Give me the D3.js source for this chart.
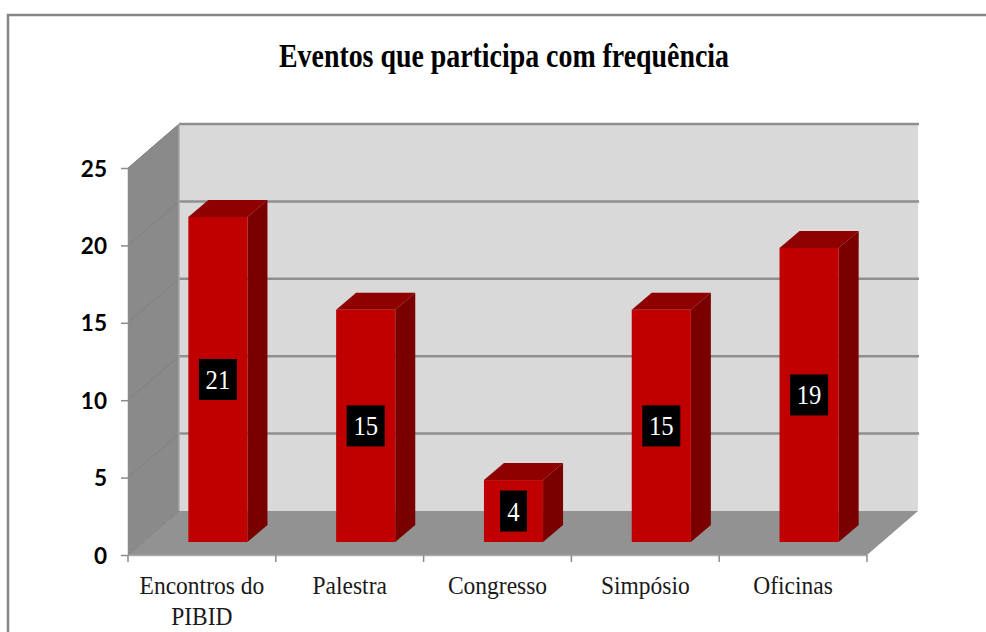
<!DOCTYPE html>
<html>
<head>
<meta charset="utf-8">
<script src="https://cdn.jsdelivr.net/npm/d3@7"></script>
<style>
  html, body { margin: 0; padding: 0; background: #fff; }
  svg { display: block; }
</style>
</head>
<body>
<div id="app"></div>
<script>
const title = "Eventos que participa com frequência";
const categories = ["Encontros do\nPIBID", "Palestra", "Congresso", "Simpósio", "Oficinas"];
const values = [21, 15, 4, 15, 19];
const yTicks = [0, 5, 10, 15, 20, 25];

const width = 986, height = 632;
const plotLeft = 128, plotRight = 867, plotBottom = 555, plotTop = 168;

// depth of the 3d box, and of the bars inside it
const depth = { x: 51, y: 44 };
const barDepth = { x: 20, y: 17 };
const barOffset = { x: 16, y: 13 };

const serif = "'Liberation Serif', serif";

const xScale = d3.scaleBand().domain(categories).range([plotLeft, plotRight]);
const yScale = d3.scaleLinear().domain([0, 25]).range([plotBottom, plotTop]);

const svg = d3.select("#app").append("svg")
  .attr("width", width)
  .attr("height", height);

// outer frame, only top and left are in the picture
svg.append("path")
  .attr("d", `M8,${height}V15H${width}`)
  .attr("fill", "none")
  .attr("stroke", "#868686")
  .attr("stroke-width", 2.5);

const poly = pts => pts.map(p => p.join(",")).join(" ");

// back wall
svg.append("polygon")
  .attr("points", poly([
    [plotLeft + depth.x, yScale(25) - depth.y], [plotRight + depth.x, yScale(25) - depth.y],
    [plotRight + depth.x, yScale(0) - depth.y], [plotLeft + depth.x, yScale(0) - depth.y]
  ]))
  .attr("fill", "#d9d9d9");

// side wall
svg.append("polygon")
  .attr("points", poly([
    [plotLeft, yScale(0)], [plotLeft, yScale(25)],
    [plotLeft + depth.x, yScale(25) - depth.y], [plotLeft + depth.x, yScale(0) - depth.y]
  ]))
  .attr("fill", "#8a8a8a");

// floor
svg.append("polygon")
  .attr("points", poly([
    [plotLeft, yScale(0)], [plotLeft + depth.x, yScale(0) - depth.y],
    [plotRight + depth.x, yScale(0) - depth.y], [plotRight, yScale(0)]
  ]))
  .attr("fill", "#929292");

// gridlines on the back wall
svg.selectAll(".grid")
  .data(yTicks.filter(d => d > 0))
  .enter()
  .append("line")
  .attr("class", "grid")
  .attr("x1", plotLeft + depth.x)
  .attr("x2", plotRight + depth.x + 1)
  .attr("y1", d => yScale(d) - depth.y)
  .attr("y2", d => yScale(d) - depth.y)
  .attr("stroke", "#8f8f8f")
  .attr("stroke-width", 2.5);

// and their run down the side wall
svg.selectAll(".sidegrid")
  .data(yTicks)
  .enter()
  .append("line")
  .attr("class", "sidegrid")
  .attr("x1", plotLeft)
  .attr("x2", plotLeft + depth.x)
  .attr("y1", d => yScale(d))
  .attr("y2", d => yScale(d) - depth.y)
  .attr("stroke", "#808080")
  .attr("stroke-width", 1);

// edge between side wall and back wall
svg.append("line")
  .attr("x1", plotLeft + depth.x).attr("x2", plotLeft + depth.x)
  .attr("y1", yScale(25) - depth.y).attr("y2", yScale(0) - depth.y)
  .attr("stroke", "#a6a6a6")
  .attr("stroke-width", 1.5);

// y axis
const yAxis = svg.append("g")
  .attr("transform", `translate(${plotLeft},0)`)
  .call(d3.axisLeft(yScale).tickValues(yTicks).tickSize(7).tickSizeOuter(0).tickPadding(0));
yAxis.select(".domain").attr("stroke", "#8c8c8c").attr("stroke-width", 1.5);
yAxis.selectAll(".tick line").attr("stroke", "#8c8c8c").attr("stroke-width", 1.5);
yAxis.selectAll(".tick text").remove();
yAxis.selectAll(".tick").append("text")
  .attr("transform", "translate(-21,8) scale(0.98,1)")
  .attr("text-anchor", "end")
  .attr("fill", "#000")
  .style("font-family", "Lato, sans-serif")
  .style("font-weight", 700)
  .style("font-size", "23px")
  .text(d => d);

// x axis line and the ticks between the categories
svg.append("line")
  .attr("x1", plotLeft).attr("x2", plotRight)
  .attr("y1", plotBottom + 0.5).attr("y2", plotBottom + 0.5)
  .attr("stroke", "#ababab")
  .attr("stroke-width", 1.5);

const xTicks = categories.map(c => xScale(c)).concat([plotRight]);
svg.selectAll(".xtick")
  .data(xTicks)
  .enter()
  .append("line")
  .attr("class", "xtick")
  .attr("x1", d => d).attr("x2", d => d)
  .attr("y1", plotBottom).attr("y2", plotBottom + 7)
  .attr("stroke", "#8c8c8c")
  .attr("stroke-width", 1.5);

// bars: top, side, front
const barW = xScale.bandwidth() * 0.4;
const barX = d => xScale(d) + xScale.bandwidth() * 0.3 + barOffset.x;
const barBase = yScale(0) - barOffset.y;
const barTop = d => yScale(d) - barOffset.y;

const bars = svg.selectAll(".bar")
  .data(values.map((v, i) => ({ name: categories[i], value: v })))
  .enter()
  .append("g")
  .attr("class", "bar");

bars.append("polygon")
  .attr("fill", "#8f0000")
  .attr("points", d => {
    const x = barX(d.name), y = barTop(d.value);
    return poly([[x, y], [x + barDepth.x, y - barDepth.y], [x + barW + barDepth.x, y - barDepth.y], [x + barW, y]]);
  });

bars.append("polygon")
  .attr("fill", "#7a0000")
  .attr("points", d => {
    const x = barX(d.name) + barW, y = barTop(d.value);
    return poly([[x, y], [x + barDepth.x, y - barDepth.y], [x + barDepth.x, barBase - barDepth.y], [x, barBase]]);
  });

bars.append("rect")
  .attr("fill", "#c00000")
  .attr("x", d => barX(d.name))
  .attr("y", d => barTop(d.value))
  .attr("width", barW)
  .attr("height", d => barBase - barTop(d.value));

// value labels in black boxes
const boxW = d => (String(d.value).length > 1 ? 38 : 27);
bars.append("rect")
  .attr("fill", "#000")
  .attr("x", d => barX(d.name) + barW / 2 - boxW(d) / 2)
  .attr("y", d => (barTop(d.value) + barBase) / 2 - 20.5)
  .attr("width", boxW)
  .attr("height", 41);

bars.append("text")
  .attr("transform", d => `translate(${barX(d.name) + barW / 2},${(barTop(d.value) + barBase) / 2 + 9.5}) scale(0.88,1)`)
  .attr("text-anchor", "middle")
  .attr("fill", "#fff")
  .style("font-family", serif)
  .style("font-size", "28px")
  .text(d => d.value);

// category labels
const catLabels = svg.selectAll(".cat")
  .data(categories)
  .enter()
  .append("text")
  .attr("class", "cat")
  .attr("transform", d => `translate(${xScale(d) + xScale.bandwidth() / 2},594) scale(0.94,1)`)
  .attr("text-anchor", "middle")
  .attr("fill", "#1a1a1a")
  .style("font-family", serif)
  .style("font-size", "25px");

catLabels.selectAll("tspan")
  .data(d => d.split("\n"))
  .enter()
  .append("tspan")
  .attr("x", 0)
  .attr("y", (d, i) => i * 31)
  .text(d => d);

// title
svg.append("text")
  .attr("transform", "translate(504,67) scale(0.845,1)")
  .attr("text-anchor", "middle")
  .attr("fill", "#000")
  .style("font-family", serif)
  .style("font-weight", 700)
  .style("font-size", "33px")
  .text(title);
</script>
</body>
</html>
